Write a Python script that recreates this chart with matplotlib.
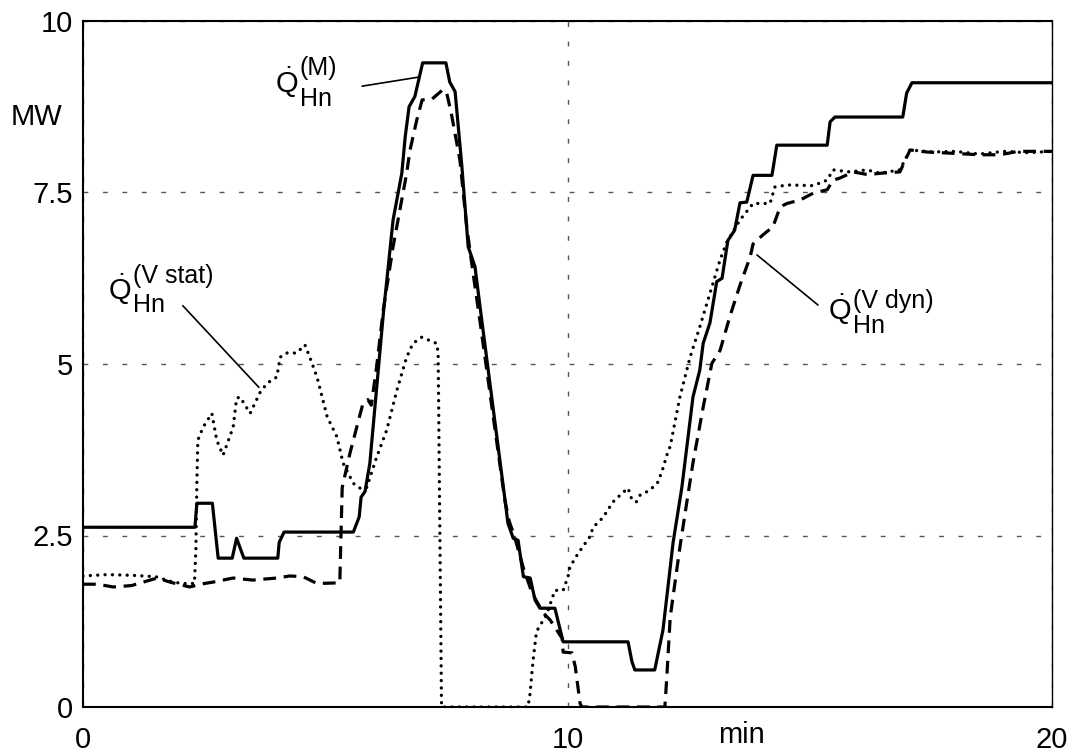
import matplotlib
matplotlib.use("Agg")
import matplotlib.pyplot as plt
from matplotlib.transforms import offset_copy

plt.rcParams['font.family'] = ['Liberation Sans', 'DejaVu Sans']
plt.rcParams['mathtext.fontset'] = 'custom'
plt.rcParams['mathtext.rm'] = 'Liberation Sans'
plt.rcParams['mathtext.it'] = 'Liberation Sans'

# ---- data (minutes, MW) ----
m_x = [0, 2.31, 2.35, 2.39, 2.67, 2.79, 3.08, 3.17, 3.32, 4.02, 4.05, 4.15, 5.58, 5.7, 5.74,
       5.82, 5.92, 6.2, 6.4, 6.58, 6.65, 6.73, 6.85, 7.01, 7.49, 7.57, 7.68, 7.82, 7.95, 8.09,
       8.23, 8.71, 8.77, 8.88, 8.98, 9.09, 9.23, 9.33, 9.43, 9.74, 9.91, 11.25, 11.33, 11.39,
       11.8, 11.97, 12.18, 12.36, 12.59, 12.73, 12.8, 12.94, 13.08, 13.19, 13.31, 13.45, 13.56,
       13.7, 13.83, 14.22, 14.32, 15.36, 15.42, 15.52, 16.92, 17.0, 17.11, 20]
m_y = [2.62, 2.62, 2.97, 2.97, 2.97, 2.17, 2.17, 2.46, 2.17, 2.17, 2.4, 2.55, 2.55, 2.77, 3.06,
       3.14, 3.55, 5.74, 7.1, 7.78, 8.31, 8.75, 8.9, 9.39, 9.39, 9.11, 8.97, 7.88, 6.71, 6.42,
       5.64, 3.02, 2.68, 2.46, 2.43, 1.9, 1.88, 1.56, 1.44, 1.44, 0.95, 0.95, 0.66, 0.54,
       0.54, 1.12, 2.4, 3.2, 4.52, 4.91, 5.3, 5.6, 6.2, 6.25, 6.8, 6.95, 7.35,
       7.36, 7.75, 7.75, 8.19, 8.19, 8.53, 8.6, 8.6, 8.95, 9.1, 9.1]

dyn_x = [0, 0.3, 0.62, 1.0, 1.53, 1.8, 2.2, 2.5, 2.68, 3.1, 3.5, 4.0, 4.27, 4.54, 4.83, 5.3,
         5.35, 5.51, 5.78, 5.88, 5.95, 6.06, 6.2, 6.4, 6.68, 6.75, 6.89, 7.0, 7.2, 7.43, 7.5,
         7.6, 7.78, 7.92, 8.05, 8.19, 8.71, 8.8, 8.9, 9.1, 9.27, 9.5, 9.64, 9.89, 9.91, 10.09,
         10.16, 10.26, 10.3, 12.01, 12.05, 12.12, 12.32, 12.47, 12.59, 12.8, 12.98, 13.15,
         13.35, 13.56, 13.77, 13.83, 14.03, 14.24, 14.39, 14.53, 14.8, 15.07, 15.36, 15.48,
         15.62, 15.9, 16.2, 16.45, 16.86, 17.07, 17.42, 18.0, 18.5, 18.93, 19.3, 20]
dyn_y = [1.79, 1.79, 1.75, 1.77, 1.88, 1.82, 1.75, 1.8, 1.82, 1.88, 1.85, 1.88, 1.91, 1.9, 1.8, 1.81,
         3.2, 3.7, 4.43, 4.48, 4.4, 4.96, 5.8, 6.71, 7.78, 8.12, 8.56, 8.85, 8.86, 9.0, 8.97,
         8.66, 7.97, 7.0, 6.33, 5.64, 3.0, 2.7, 2.5, 2.0, 1.66, 1.37, 1.27, 1.0, 0.8, 0.79,
         0.59, 0.05, 0.0, 0.0, 0.44, 1.31, 2.33, 3.02, 3.56, 4.37, 5.01, 5.2,
         5.69, 6.15, 6.56, 6.75, 6.88, 7.0, 7.29, 7.34, 7.39, 7.49, 7.54, 7.68,
         7.71, 7.8, 7.76, 7.78, 7.8, 8.12, 8.09, 8.07, 8.05, 8.05, 8.1, 8.1]

stat_x = [0, 0.5, 1.0, 1.5, 1.86, 2.07, 2.3, 2.33, 2.35, 2.37, 2.48, 2.66, 2.76, 2.89, 3.1, 3.17,
          3.24, 3.45, 3.65, 3.8, 4.0, 4.07, 4.2, 4.41, 4.58, 4.68, 4.83, 5.04, 5.24, 5.37, 5.58,
          5.72, 5.85, 6.06, 6.27, 6.48, 6.68, 6.81, 6.99, 7.3, 7.33, 7.4, 9.18, 9.22, 9.29, 9.36,
          9.57, 9.74, 9.91, 10.01, 10.05, 10.22, 10.46, 10.53, 10.73, 10.94, 11.15, 11.25, 11.33,
          11.42, 11.5, 11.7, 11.87, 11.97, 12.05, 12.12, 12.32, 12.53, 12.73, 12.94, 13.15,
          13.29, 13.56, 13.83, 14.18, 14.28, 14.53, 15.07, 15.36, 15.48, 15.83, 16.18, 16.45,
          16.86, 17.07, 17.54, 18.0, 18.5, 19.0, 19.5, 20]
stat_y = [1.91, 1.93, 1.92, 1.9, 1.82, 1.8, 1.8, 2.3, 3.26, 3.89, 4.08, 4.28, 3.89, 3.67, 4.08, 4.5,
          4.52, 4.28, 4.58, 4.72, 4.81, 5.1, 5.16, 5.16, 5.28, 5.1, 4.81, 4.23, 3.94, 3.55, 3.26,
          3.19, 3.19, 3.64, 4.04, 4.62, 5.1, 5.3, 5.39, 5.3, 5.16, 0.0, 0.0, 0.15, 0.68, 1.1,
          1.35, 1.7, 1.7, 1.9, 2.04, 2.24, 2.48, 2.62, 2.76, 2.99, 3.13, 3.19, 3.02,
          2.99, 3.09, 3.16, 3.28, 3.48, 3.67, 3.8, 4.52, 5.1, 5.54, 6.03, 6.52,
          6.78, 7.1, 7.34, 7.34, 7.58, 7.61, 7.6, 7.68, 7.83, 7.8, 7.83, 7.78,
          7.83, 8.12, 8.09, 8.1, 8.06, 8.1, 8.08, 8.1]

x_ticks = [0, 10, 20]
x_ticklabels = ['0', '10', '20']
y_ticks = [0, 2.5, 5, 7.5, 10]
y_ticklabels = ['0', '2.5', '5', '7.5', '10']

q_symbol = r'$\dot{\mathrm{Q}}$'
sub_text = 'Hn'
sup_m = '(M)'
sup_stat = '(V stat)'
sup_dyn = '(V dyn)'

# ---- figure ----
fig = plt.figure(figsize=(10.72, 7.54), dpi=100)
ax = fig.add_axes([83 / 1072, 47 / 754, 969 / 1072, 686 / 754])

ax.plot(stat_x, stat_y, color='black', lw=2.4, linestyle=(0, (0.01, 2.2)),
        dash_capstyle='round', zorder=3)
ax.plot(dyn_x, dyn_y, color='black', lw=2.3, linestyle=(0, (4, 2.4)), zorder=3)
ax.plot(m_x, m_y, color='black', lw=2.3, linestyle='-', zorder=4)

ax.set_xlim(0, 20)
ax.set_ylim(0, 10)
ax.set_xticks(x_ticks)
ax.set_xticklabels(x_ticklabels)
ax.set_yticks(y_ticks)
ax.set_yticklabels(y_ticklabels)
ax.tick_params(axis='both', length=0, labelsize=21)
ax.tick_params(axis='x', pad=14)
ax.tick_params(axis='y', pad=7)
ax.grid(True, color='#555555', linestyle=(0, (3.5, 10.5)), lw=1.0)
for s in ax.spines.values():
    s.set_color('black')
    s.set_linewidth(1.5)
ax.spines['right'].set_linewidth(1.0)

ax.text(-0.048, 0.86, 'MW', transform=ax.transAxes, fontsize=21, ha='center', va='center')
ax.text(0.68, -0.041, 'min', transform=ax.transAxes, fontsize=21, ha='center', va='center')


def qlabel(x, y, sup, sup_dy, sub_dy):
    """Place Q-dot with superscript and subscript; offsets in pixels."""
    ax.text(x, y, q_symbol, fontsize=21, ha='left', va='baseline')
    t_sup = offset_copy(ax.transData, fig=fig, x=25, y=sup_dy, units='dots')
    t_sub = offset_copy(ax.transData, fig=fig, x=25, y=sub_dy, units='dots')
    ax.text(x, y, sup, fontsize=18, ha='left', va='baseline', transform=t_sup)
    ax.text(x, y, sub_text, fontsize=18, ha='left', va='baseline', transform=t_sub)


qlabel(3.96, 8.95, sup_m, 18, -13)
qlabel(0.52, 5.93, sup_stat, 17, -12)
qlabel(15.38, 5.64, sup_dyn, 12, -13)

lead = dict(arrowstyle='-', color='black', lw=1.2, shrinkA=0, shrinkB=0)
ax.annotate('', xy=(6.91, 9.18), xytext=(5.76, 9.05), arrowprops=lead)
ax.annotate('', xy=(3.63, 4.66), xytext=(2.06, 5.85), arrowprops=lead)
ax.annotate('', xy=(13.91, 6.59), xytext=(15.17, 5.86), arrowprops=lead)

fig.savefig('out.png', dpi=100)
